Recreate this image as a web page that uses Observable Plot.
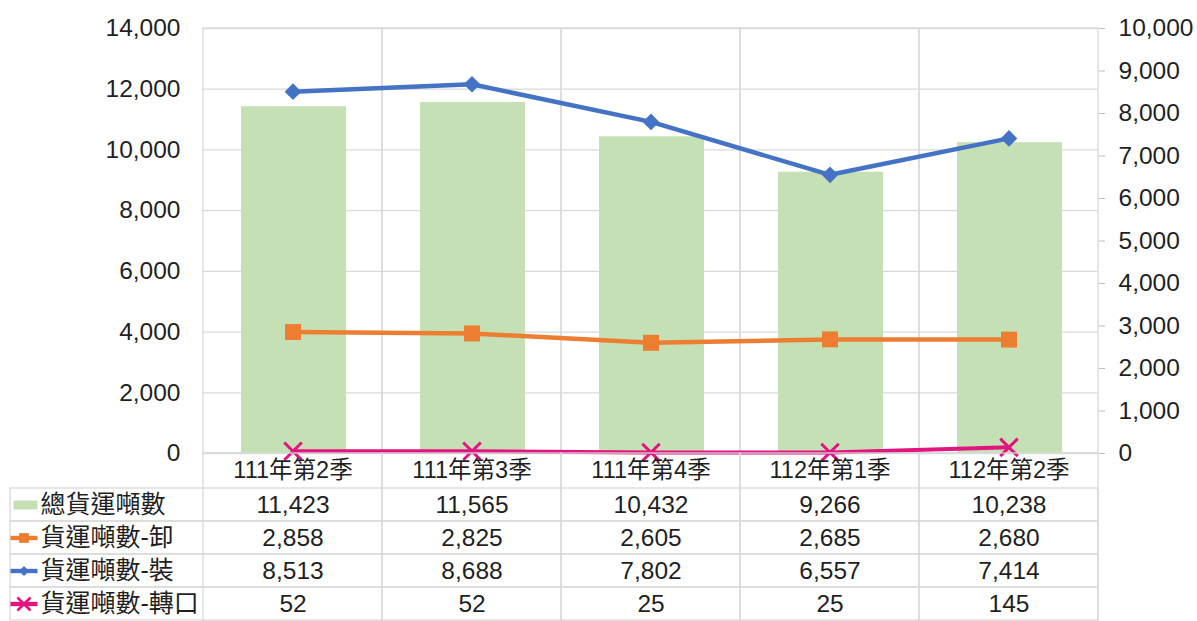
<!DOCTYPE html>
<html>
<head>
<meta charset="utf-8">
<script src="https://cdn.jsdelivr.net/npm/d3@7"></script>
<script src="https://cdn.jsdelivr.net/npm/@observablehq/plot@0.6"></script>
<style>
  html, body { margin: 0; padding: 0; background: white; }
  #chart { position: relative; width: 1197px; height: 621px; }
  #chart svg { position: absolute; left: 0; top: 0; }
</style>
</head>
<body>
<div id="chart"></div>
<script>
// ---- data ----
const quarters = ["111年第2季", "111年第3季", "111年第4季", "112年第1季", "112年第2季"];
const seriesNames = ["總貨運噸數", "貨運噸數-卸", "貨運噸數-裝", "貨運噸數-轉口"];
const totalTons = [11423, 11565, 10432, 9266, 10238];
const unloadTons = [2858, 2825, 2605, 2685, 2680];
const loadTons = [8513, 8688, 7802, 6557, 7414];
const transitTons = [52, 52, 25, 25, 145];
const leftTicks = [0, 2000, 4000, 6000, 8000, 10000, 12000, 14000];
const rightTicks = [0, 1000, 2000, 3000, 4000, 5000, 6000, 7000, 8000, 9000, 10000];

// ---- styles ----
const font = "'Liberation Sans', Arial, 'Noto Sans CJK TC', sans-serif";
const grid = "#d9d9d9";
const green = "#c5e0b4";
const orange = "#ed7d31";
const blue = "#4472c4";
const pink = "#e0157f";
const lineColors = {"貨運噸數-卸": orange, "貨運噸數-裝": blue, "貨運噸數-轉口": pink};
const textColor = "#1f1f1f";
const W = 1197, H = 621;
const mTop = 28, mBottom = 168, mLeft = 202, mRight = 99;
const numSize = 24.5;

const toRows = (arr) => arr.map((v, i) => ({quarter: quarters[i], value: v}));
const totalData = toRows(totalTons);
const unloadData = toRows(unloadTons);
const loadData = toRows(loadTons);
const transitData = toRows(transitTons);
const seriesArrays = [totalTons, unloadTons, loadTons, transitTons];
const tableData = seriesNames.flatMap((s, j) => seriesArrays[j].map((v, i) => ({series: s, quarter: quarters[i], value: v})));
const fmt = d3.format(",");

// custom legend symbols
const barSwatch = {draw(ctx) { ctx.rect(-12, -4.5, 24, 9); }};
const lineSwatch = {draw(ctx) { ctx.rect(-13.5, -2.2, 27, 4.4); }};

// ---- Plot A: bars + left axis ----
const plotA = Plot.plot({
  width: W, height: H,
  marginTop: mTop, marginBottom: mBottom, marginLeft: mLeft, marginRight: mRight,
  style: {fontFamily: font, fontSize: "23px", color: textColor, background: "white"},
  x: {type: "band", domain: quarters, padding: 0, axis: null},
  y: {domain: [0, 14000], axis: null},
  marks: [
    Plot.ruleY(leftTicks, {stroke: grid, strokeWidth: 1.3}),
    Plot.cell(quarters, {x: d => d, stroke: grid, strokeWidth: 1.3, fill: "none"}),
    Plot.barY(totalData, {x: "quarter", y: "value", fill: green, insetLeft: 38, insetRight: 36}),
    Plot.axisY(leftTicks, {anchor: "left", tickSize: 0, tickPadding: 22, tickFormat: fmt, label: null, fontSize: numSize, fill: textColor})
  ]
});

// ---- Plot C: lines + right axis ----
const plotC = Plot.plot({
  width: W, height: H,
  marginTop: mTop, marginBottom: mBottom, marginLeft: mLeft, marginRight: mRight,
  style: {fontFamily: font, fontSize: "23px", color: textColor, background: "transparent"},
  x: {type: "band", domain: quarters, padding: 0, axis: null},
  y: {domain: [0, 10000], axis: null},
  marks: [
    Plot.axisY(rightTicks, {anchor: "right", tickSize: 6, tickPadding: 14, tickFormat: fmt, label: null, fontSize: numSize, stroke: "#bfbfbf", fill: textColor}),
    Plot.line(unloadData, {x: "quarter", y: "value", stroke: orange, strokeWidth: 4.5}),
    Plot.dot(unloadData, {x: "quarter", y: "value", symbol: "square", r: 9, fill: orange}),
    Plot.line(loadData, {x: "quarter", y: "value", stroke: blue, strokeWidth: 4.5}),
    Plot.dot(loadData, {x: "quarter", y: "value", symbol: "diamond2", r: 7.5, fill: blue}),
    Plot.line(transitData, {x: "quarter", y: "value", stroke: pink, strokeWidth: 4}),
    Plot.dot(transitData, {x: "quarter", y: "value", symbol: "times", r: 8, stroke: pink, strokeWidth: 3})
  ]
});

// ---- Plot B: data table ----
const headerKey = "季別";
const lineSeries = seriesNames.slice(1);
const plotB = Plot.plot({
  width: W, height: H,
  marginTop: 453, marginBottom: 0, marginLeft: 10, marginRight: mRight,
  style: {fontFamily: font, fontSize: "23px", color: textColor, background: "transparent"},
  x: {type: "band", domain: quarters, range: [mLeft, W - mRight], padding: 0, axis: null},
  y: {type: "band", domain: [headerKey, ...seriesNames], padding: 0, axis: null},
  marks: [
    Plot.cell(quarters, {x: d => d, stroke: grid, strokeWidth: 1.3, fill: "none"}),
    Plot.cell(seriesNames, {y: d => d, stroke: grid, strokeWidth: 1.3, fill: "none"}),
    Plot.text(quarters, {x: d => d, y: () => headerKey, text: d => d, fontSize: 23.5, dy: -2, fill: textColor}),
    Plot.text(tableData, {x: "quarter", y: "series", text: d => fmt(d.value), fontSize: numSize, fill: textColor}),
    Plot.text(seriesNames, {y: d => d, frameAnchor: "left", dx: 30, textAnchor: "start", text: d => d, fontSize: 25, fill: textColor}),
    // legend swatches
    Plot.dot([seriesNames[0]], {y: d => d, frameAnchor: "left", dx: 15, symbol: barSwatch, r: 5, fill: green}),
    Plot.dot(lineSeries, {y: d => d, frameAnchor: "left", dx: 13.5, symbol: lineSwatch, r: 5, fill: d => lineColors[d]}),
    Plot.dot([seriesNames[1]], {y: d => d, frameAnchor: "left", dx: 13.5, symbol: "square", r: 5.5, fill: orange}),
    Plot.dot([seriesNames[2]], {y: d => d, frameAnchor: "left", dx: 13.5, symbol: "diamond2", r: 4.5, fill: blue}),
    Plot.dot([seriesNames[3]], {y: d => d, frameAnchor: "left", dx: 13.5, symbol: "times", r: 6, stroke: pink, strokeWidth: 2.6})
  ]
});

const root = document.getElementById("chart");
root.appendChild(plotA);
root.appendChild(plotC);
root.appendChild(plotB);
</script>
</body>
</html>
